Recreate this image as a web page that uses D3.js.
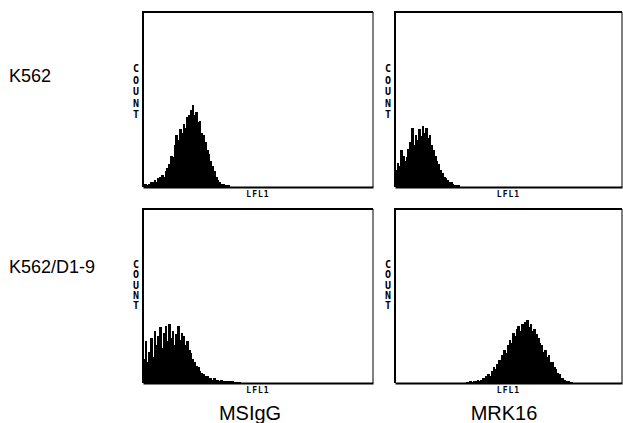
<!DOCTYPE html>
<html>
<head>
<meta charset="utf-8">
<script src="https://cdn.jsdelivr.net/npm/d3@7"></script>
<style>
  body { margin: 0; background: #fff; }
  svg { display: block; }
</style>
</head>
<body>
<svg id="chart" width="623" height="423"></svg>
<script>
// cell lines (rows) and antibodies (columns)
const rowLabels = ["K562", "K562/D1-9"];
const colLabels = ["MSIgG", "MRK16"];
const xAxisLabel = "LFL1";
const yAxisLabel = "COUNT";
const channels = 128;   // histogram channels across the LFL1 axis
const countMax = 100;   // count axis, full scale

// counts per channel, each histogram starts at its first channel
const k562IgGStart = 0;
const k562IgG = [2, 2, 1, 2, 3, 3, 4, 3, 5, 6, 7, 6, 9, 11, 13, 18, 17, 24, 30, 27,
  33, 31, 36, 34, 40, 41, 44, 47, 41, 43, 37, 38, 31, 30, 26, 21, 19, 15, 12, 9,
  6, 4, 3, 2, 2, 1, 1, 1];

const k562MrkStart = 0;
const k562Mrk = [10, 14, 12, 21, 18, 15, 17, 22, 26, 34, 24, 30, 27, 33, 29, 35, 31, 34, 28, 30,
  24, 21, 18, 15, 13, 10, 8, 6, 5, 4, 3, 3, 2, 1, 1, 1];

const d19IgGStart = 0;
const d19IgG = [14, 24, 12, 18, 26, 15, 30, 22, 27, 32, 20, 29, 33, 24, 34, 26, 30, 22, 28, 33,
  25, 29, 27, 22, 24, 19, 17, 14, 12, 10, 9, 7, 6, 5, 4, 4, 3, 3, 2, 3,
  2, 2, 1, 2, 1, 1, 1, 1, 1, 1, 0.5, 0.5, 0.5, 0.5];

const d19MrkStart = 40;
const d19Mrk = [0.5, 0.5, 1, 0.5, 1, 1, 1.5, 1, 2, 3, 2, 4, 5, 4, 7, 9, 8, 11, 13, 12,
  16, 19, 17, 22, 25, 23, 29, 27, 31, 33, 30, 34, 33, 35, 36, 32, 34, 30, 31, 28,
  26, 23, 22, 18, 19, 15, 16, 12, 12, 9, 8, 6, 5, 3, 3, 2, 1, 1, 0.5, 0.5];

const histograms = [
  [{ start: k562IgGStart, counts: k562IgG }, { start: k562MrkStart, counts: k562Mrk }],
  [{ start: d19IgGStart, counts: d19IgG }, { start: d19MrkStart, counts: d19Mrk }]
];

const svg = d3.select("#chart");

const colX = [[143, 373], [395, 622]];
const rowY = [[12, 187], [209, 383]];
const font = "'Liberation Sans', Arial, sans-serif";

rowLabels.forEach(function (label, r) {
  svg.append("text")
    .attr("x", 9)
    .attr("y", r === 0 ? 82 : 273)
    .style("font-family", font)
    .style("font-size", "18px")
    .text(label);
});

colLabels.forEach(function (label, c) {
  svg.append("text")
    .attr("x", c === 0 ? 250 : 504)
    .attr("y", 420)
    .attr("text-anchor", "middle")
    .style("font-family", font)
    .style("font-size", "20px")
    .text(label);
});

for (let r = 0; r < 2; r++) {
  for (let c = 0; c < 2; c++) {
    let x0 = colX[c][0], x1 = colX[c][1];
    let y0 = rowY[r][0], y1 = rowY[r][1];

    let xScale = d3.scaleLinear().domain([0, channels]).range([x0, x1]);
    let yScale = d3.scaleLinear().domain([0, countMax]).range([y1, y0]);

    let hist = histograms[r][c];
    let bins = hist.counts.map(function (v, i) { return { ch: hist.start + i, n: v }; });

    let g = svg.append("g");

    g.selectAll("rect.bin")
      .data(bins)
      .enter()
      .append("rect")
      .attr("class", "bin")
      .attr("x", d => xScale(d.ch))
      .attr("width", xScale(1) - xScale(0) + 0.9)
      .attr("y", d => yScale(d.n))
      .attr("height", d => y1 - yScale(d.n))
      .attr("fill", "#000")
      .attr("shape-rendering", "crispEdges");

    // frame
    g.append("line").attr("x1", x0).attr("x2", x1).attr("y1", y0).attr("y2", y0)
      .attr("stroke", "#000").attr("stroke-width", 1.8);
    g.append("line").attr("x1", x0).attr("x2", x0).attr("y1", y0 - 1).attr("y2", y1)
      .attr("stroke", "#000").attr("stroke-width", 2);
    g.append("line").attr("x1", x1).attr("x2", x1).attr("y1", y0).attr("y2", y1)
      .attr("stroke", "#000").attr("stroke-width", 1);

    let axis = d3.axisBottom(xScale).tickValues([]).tickSizeOuter(0);
    g.append("g")
      .attr("transform", "translate(0," + y1 + ")")
      .call(axis)
      .select(".domain")
      .attr("stroke-width", 1.8);

    g.append("text")
      .attr("x", (x0 + x1) / 2)
      .attr("y", y1 + 10)
      .attr("text-anchor", "middle")
      .style("font-family", "'DejaVu Sans Mono', monospace")
      .style("font-size", "8px")
      .style("font-weight", "bold")
      .style("letter-spacing", "1px")
      .text(xAxisLabel);

    let letterStep = r === 0 ? 11.5 : 10.3;
    let firstY = r === 0 ? 72 : 268;
    yAxisLabel.split("").forEach(function (ch, i) {
      g.append("text")
        .attr("x", x0 - 7)
        .attr("y", firstY + i * letterStep)
        .attr("text-anchor", "middle")
        .style("font-family", "'DejaVu Sans Mono', monospace")
        .style("font-size", "10px")
        .style("font-weight", "bold")
        .text(ch);
    });
  }
}
</script>
</body>
</html>
